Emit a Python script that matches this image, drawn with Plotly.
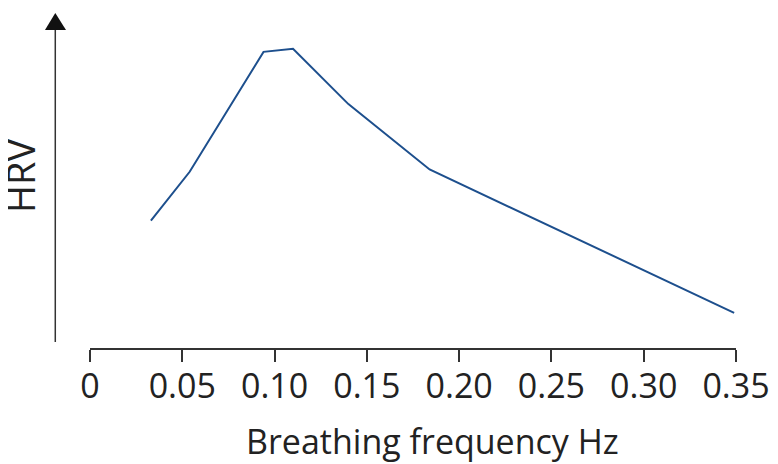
import plotly.graph_objects as go

# Data (HRV in arbitrary units)
freq_hz = [0.033, 0.054, 0.094, 0.110, 0.140, 0.184, 0.349]
hrv = [3.80, 5.26, 8.84, 8.93, 7.28, 5.33, 1.05]
tick_vals = [0, 0.05, 0.10, 0.15, 0.20, 0.25, 0.30, 0.35]
tick_text = ["0", "0.05", "0.10", "0.15", "0.20", "0.25", "0.30", "0.35"]

FONT = "Open Sans"
OFF = 8  # default page body margin
W, H = 770, 456
L, R, T, B = 90 - OFF, 42.3, 13 - OFF, 116
pw = W - L - R
ph = H - T - B

def px_x(p):
    return (p - OFF - L) / pw

def px_y(p):
    return (H - B - (p - OFF)) / ph

fig = go.Figure()
fig.add_trace(go.Scatter(x=freq_hz, y=hrv, mode="lines",
                         line=dict(color="#1d4f8d", width=2), hoverinfo="skip"))

fig.update_layout(
    width=W, height=H,
    margin=dict(l=L, r=R, t=T, b=B, pad=0),
    paper_bgcolor="white", plot_bgcolor="white",
    showlegend=False,
    font=dict(family=FONT, color="#222222"),
    xaxis=dict(range=[0, 0.35], tickvals=tick_vals, ticktext=tick_text,
               showline=True, linecolor="#333333", linewidth=1.5,
               ticks="outside", ticklen=12, tickwidth=1.5, tickcolor="#333333",
               showgrid=False, zeroline=False, ticklabelstandoff=-5,
               tickfont=dict(family=FONT, size=34, color="#222222")),
    yaxis=dict(range=[0, 10], showline=False, showticklabels=False, ticks="",
               showgrid=False, zeroline=False),
)

# y-axis line with arrowhead
fig.add_shape(type="line", xref="paper", yref="paper",
              x0=px_x(55.3), x1=px_x(55.3), y0=px_y(342), y1=px_y(28),
              line=dict(color="#333333", width=1.5))
fig.add_shape(type="path", xref="paper", yref="paper",
              path=f"M {px_x(45)} {px_y(30)} L {px_x(66)} {px_y(30)} L {px_x(55.3)} {px_y(13)} Z",
              fillcolor="#111111", line=dict(width=0))

fig.add_annotation(text="HRV", xref="paper", yref="paper",
                   x=px_x(20), y=px_y(176), showarrow=False, textangle=-90,
                   xanchor="center", yanchor="middle", borderpad=0,
                   font=dict(family=FONT, size=38, color="#222222"))
fig.add_annotation(text="Breathing frequency Hz", xref="paper", yref="paper",
                   x=px_x(432), y=px_y(441), showarrow=False,
                   xanchor="center", yanchor="middle", borderpad=0,
                   font=dict(family=FONT, size=34, color="#222222"))

fig.write_html("out.html")
